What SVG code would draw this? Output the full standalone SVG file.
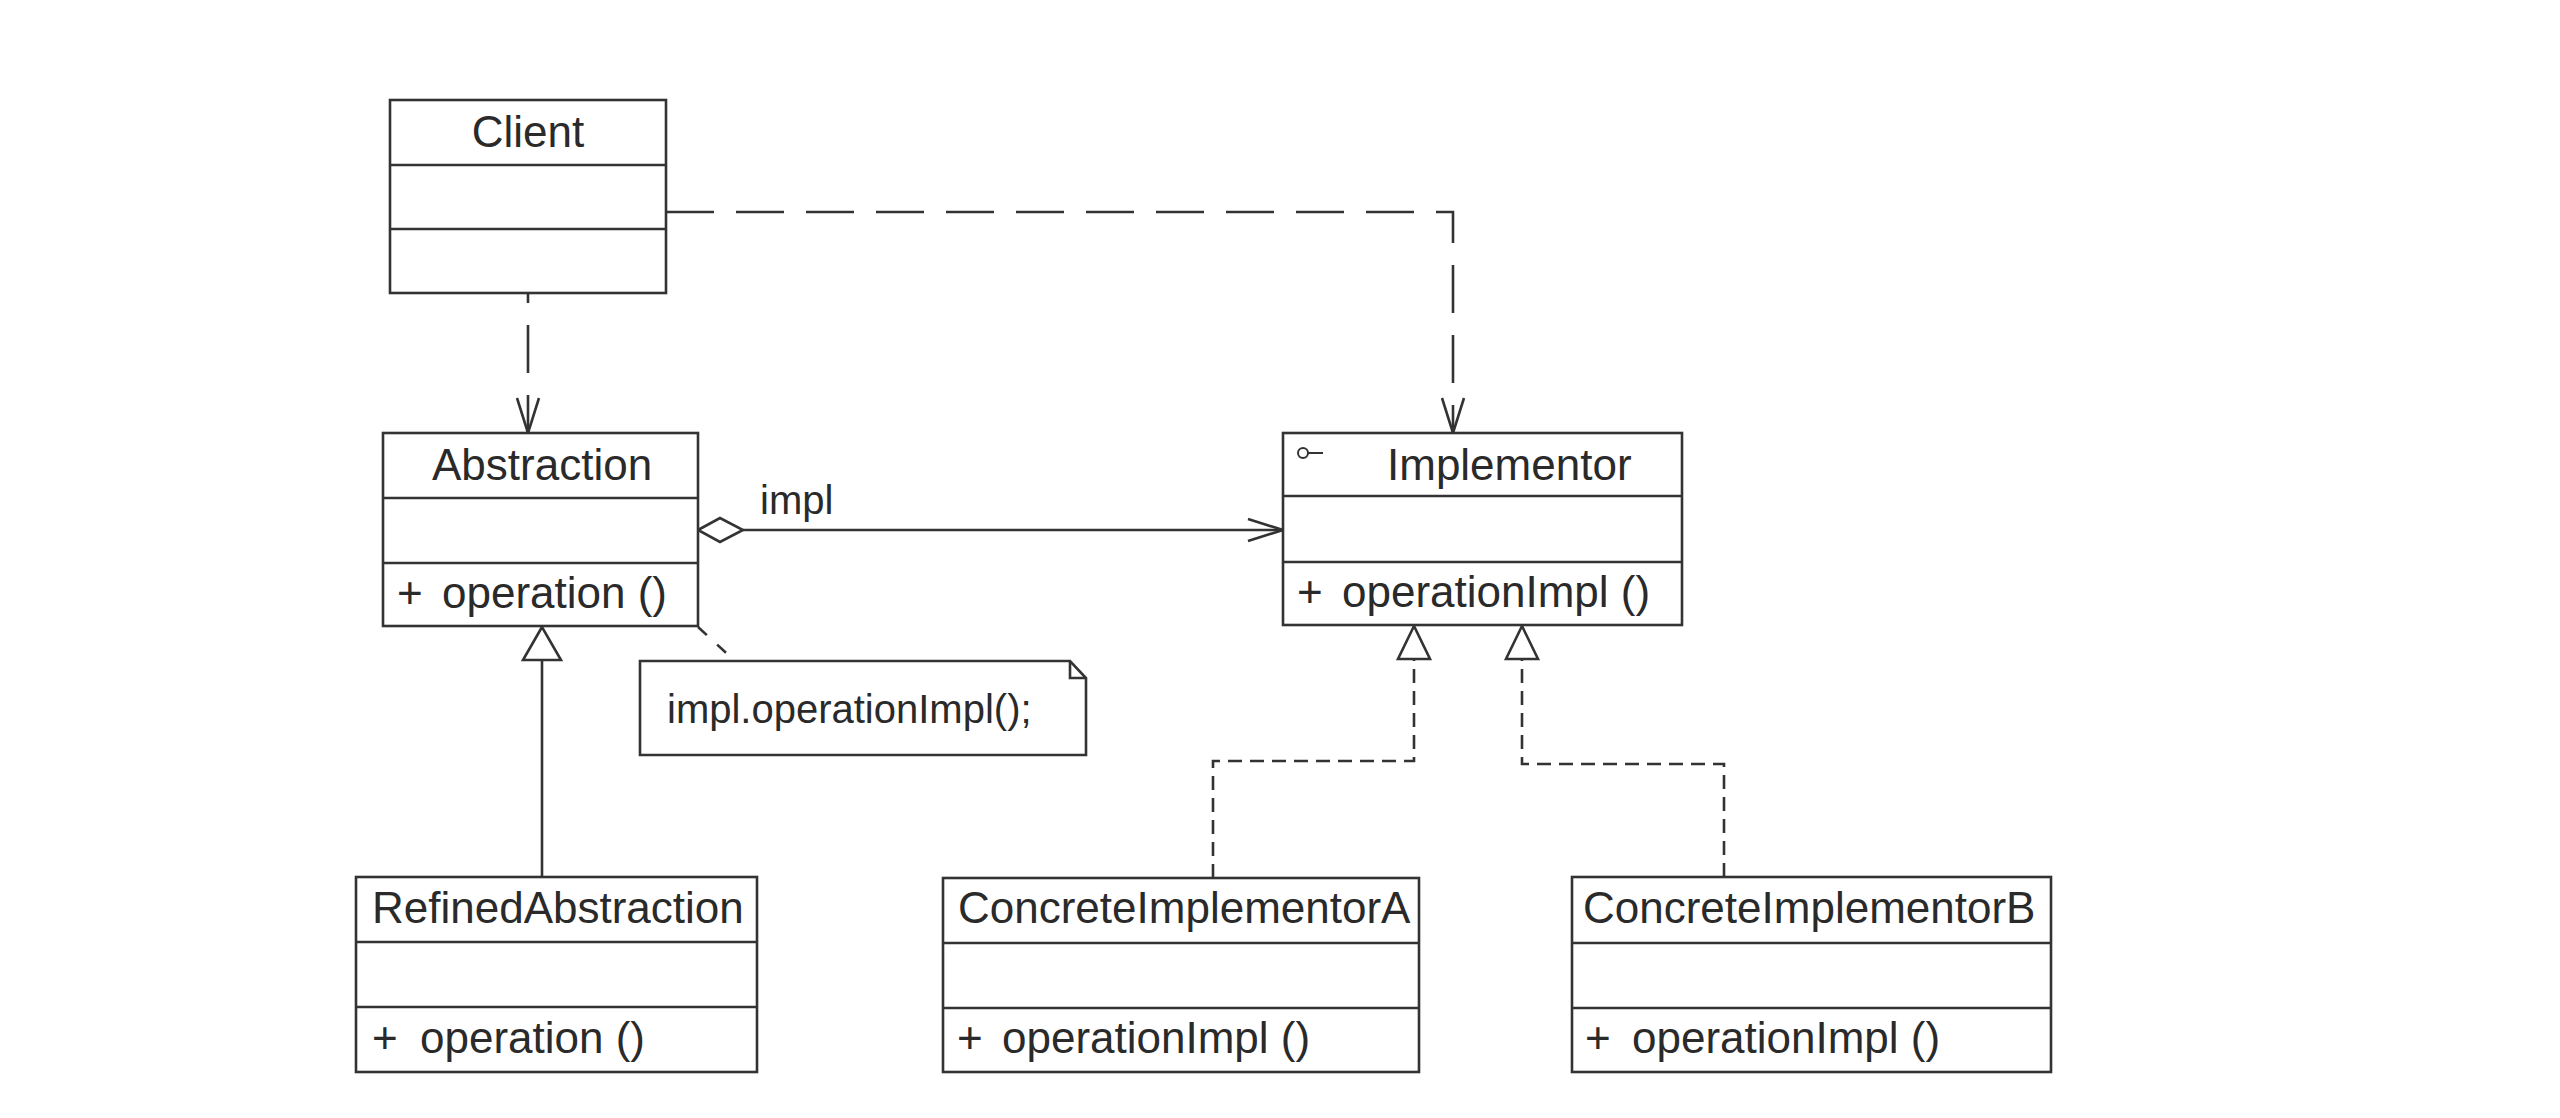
<svg xmlns="http://www.w3.org/2000/svg" width="2560" height="1118" viewBox="0 0 2560 1118">
  <style>
    .box { fill: #ffffff; stroke: #333333; stroke-width: 2.6; }
    .sep { stroke: #333333; stroke-width: 2.6; }
    .title { font-family: "Liberation Sans", Arial, sans-serif; font-size: 44px; fill: #2a2a2a; }
    .member { font-family: "Liberation Sans", Arial, sans-serif; font-size: 44px; fill: #2a2a2a; }
    .label { font-family: "Liberation Sans", Arial, sans-serif; font-size: 40px; fill: #2a2a2a; }
    .line { fill: none; stroke: #333333; stroke-width: 2.6; }
    .dep { fill: none; stroke: #333333; stroke-width: 2.6; stroke-dasharray: 48 22; }
    .real { fill: none; stroke: #333333; stroke-width: 2.6; stroke-dasharray: 14 8; }
    .anchor { fill: none; stroke: #333333; stroke-width: 2.6; stroke-dasharray: 12 14; }
    .head { fill: #ffffff; stroke: #333333; stroke-width: 2.6; stroke-linejoin: miter; }
  </style>
  <defs>
    <!-- open arrowhead for dependencies and navigable association -->
    <marker id="open" markerUnits="userSpaceOnUse" viewBox="0 0 38 26" refX="36" refY="13" markerWidth="38" markerHeight="26" orient="auto">
      <path d="M1,2 L36,13 L1,24" fill="none" stroke="#333333" stroke-width="2.6" stroke-dasharray="none"/>
    </marker>
  </defs>

  <rect width="2560" height="1118" fill="#ffffff"/>

  <!-- connectors -->
  <g id="connectors">
    <!-- Client uses Abstraction -->
    <path class="dep" d="M528,293 V433" stroke-dashoffset="38" marker-end="url(#open)"/>
    <!-- Client uses Implementor -->
    <path class="dep" d="M666,212 H1453 V433" marker-end="url(#open)"/>
    <!-- Abstraction aggregates Implementor (impl) -->
    <path class="line" d="M743,530 H1283" marker-end="url(#open)"/>
    <polygon class="head" points="698,530 720,518 743,530 720,542"/>
    <text class="label" x="760" y="514">impl</text>
    <!-- RefinedAbstraction generalizes Abstraction -->
    <path class="line" d="M542,877 V660"/>
    <polygon class="head" points="542,627 523,660 561,660"/>
    <!-- ConcreteImplementorA realizes Implementor -->
    <path class="real" d="M1213,878 V761 H1414 V659"/>
    <polygon class="head" points="1414,626 1398,659 1430,659"/>
    <!-- ConcreteImplementorB realizes Implementor -->
    <path class="real" d="M1724,877 V764 H1522 V659"/>
    <polygon class="head" points="1522,626 1506,659 1538,659"/>
    <!-- note anchor -->
    <path class="anchor" d="M698,627 L735,661"/>
  </g>

  <!-- Client -->
  <g id="client">
    <rect class="box" x="390" y="100" width="276" height="193"/>
    <line class="sep" x1="390" y1="165" x2="666" y2="165"/>
    <line class="sep" x1="390" y1="229" x2="666" y2="229"/>
    <text class="title" x="528" y="147" text-anchor="middle">Client</text>
  </g>

  <!-- Abstraction -->
  <g id="abstraction">
    <rect class="box" x="383" y="433" width="315" height="193"/>
    <line class="sep" x1="383" y1="498" x2="698" y2="498"/>
    <line class="sep" x1="383" y1="563" x2="698" y2="563"/>
    <text class="title" x="432" y="480">Abstraction</text>
    <text class="member" x="397" y="608">+<tspan x="442">operation ()</tspan></text>
  </g>

  <!-- Implementor -->
  <g id="implementor">
    <rect class="box" x="1283" y="433" width="399" height="192"/>
    <line class="sep" x1="1283" y1="496" x2="1682" y2="496"/>
    <line class="sep" x1="1283" y1="562" x2="1682" y2="562"/>
    <circle cx="1303" cy="453" r="5" fill="none" stroke="#333333" stroke-width="2"/>
    <line x1="1308" y1="453" x2="1323" y2="453" stroke="#333333" stroke-width="2"/>
    <text class="title" x="1387" y="480">Implementor</text>
    <text class="member" x="1297" y="607">+<tspan x="1342">operationImpl ()</tspan></text>
  </g>

  <!-- RefinedAbstraction -->
  <g id="refined-abstraction">
    <rect class="box" x="356" y="877" width="401" height="195"/>
    <line class="sep" x1="356" y1="942" x2="757" y2="942"/>
    <line class="sep" x1="356" y1="1007" x2="757" y2="1007"/>
    <text class="title" x="372" y="923">RefinedAbstraction</text>
    <text class="member" x="372" y="1053">+<tspan x="420">operation ()</tspan></text>
  </g>

  <!-- ConcreteImplementorA -->
  <g id="concrete-implementor-a">
    <rect class="box" x="943" y="878" width="476" height="194"/>
    <line class="sep" x1="943" y1="943" x2="1419" y2="943"/>
    <line class="sep" x1="943" y1="1008" x2="1419" y2="1008"/>
    <text class="title" x="958" y="923">ConcreteImplementorA</text>
    <text class="member" x="957" y="1053">+<tspan x="1002">operationImpl ()</tspan></text>
  </g>

  <!-- ConcreteImplementorB -->
  <g id="concrete-implementor-b">
    <rect class="box" x="1572" y="877" width="479" height="195"/>
    <line class="sep" x1="1572" y1="943" x2="2051" y2="943"/>
    <line class="sep" x1="1572" y1="1008" x2="2051" y2="1008"/>
    <text class="title" x="1583" y="923">ConcreteImplementorB</text>
    <text class="member" x="1585" y="1053">+<tspan x="1632">operationImpl ()</tspan></text>
  </g>

  <!-- note attached to operation() -->
  <g id="note">
    <polygon class="box" points="640,661 1070,661 1086,678 1086,755 640,755"/>
    <polyline class="line" points="1070,661 1070,678 1086,678"/>
    <text class="label" x="667" y="723">impl.operationImpl();</text>
  </g>
</svg>
